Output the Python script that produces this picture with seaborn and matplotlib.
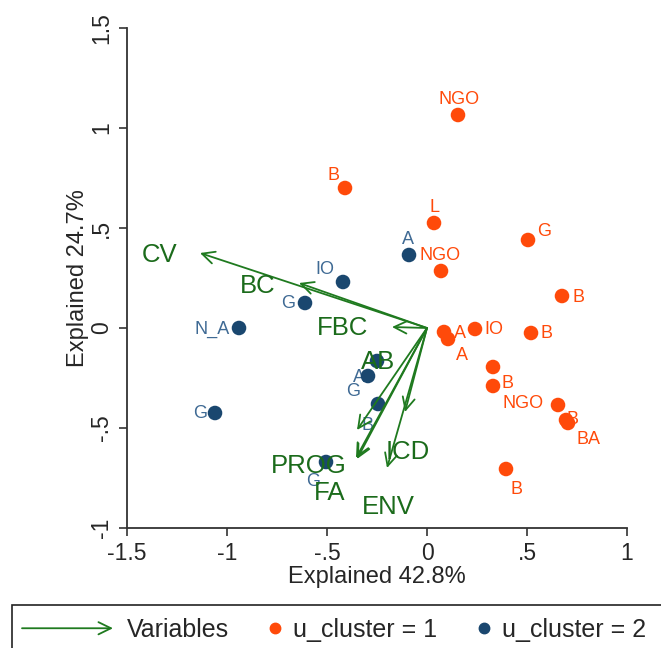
import numpy as np
import pandas as pd
import matplotlib
matplotlib.use("Agg")
import matplotlib.pyplot as plt
import seaborn as sns
from matplotlib.patches import FancyArrowPatch, Rectangle
from matplotlib.lines import Line2D
from matplotlib.legend_handler import HandlerBase

# ---------------- data ----------------
c1_x = [0.155, -0.41, 0.035, 0.07, 0.505, 0.675, 0.085, 0.105, 0.24, 0.52, 0.33, 0.33, 0.655, 0.695, 0.705, 0.395]
c1_y = [1.065, 0.70, 0.525, 0.285, 0.44, 0.16, -0.02, -0.055, -0.005, -0.025, -0.195, -0.29, -0.385, -0.46, -0.475, -0.705]
c1_lab = ["NGO", "B", "L", "NGO", "G", "B", "A", "A", "IO", "B", "", "B", "NGO", "B", "BA", "B"]

c2_x = [-0.09, -0.42, -0.61, -0.94, -1.06, -0.25, -0.295, -0.245, -0.505]
c2_y = [0.365, 0.23, 0.125, 0.0, -0.425, -0.165, -0.24, -0.38, -0.67]
c2_lab = ["A", "IO", "G", "N_A", "G", "A", "G", "B", "G"]

var_names = ["CV", "BC", "FBC", "AB", "PROG", "FA", "ICD", "ENV"]
var_x = [-1.135, -0.64, -0.175, -0.35, -0.355, -0.35, -0.11, -0.20]
var_y = [0.375, 0.225, 0.005, -0.51, -0.65, -0.655, -0.42, -0.70]

x_ticks = [-1.5, -1, -0.5, 0, 0.5, 1]
x_ticklabels = ["-1.5", "-1", "-.5", "0", ".5", "1"]
y_ticks = [-1, -0.5, 0, 0.5, 1, 1.5]
y_ticklabels = ["-1", "-.5", "0", ".5", "1", "1.5"]

# ---------------- layout / style ----------------
c1_off = [(1, 16), (-12, 12), (0, 15), (-1, 15), (16, 9), (16, -1), (16, -1), (14, -17),
          (19, -1), (16, -1), (0, 0), (14, 3), (-35, 2), (6, 1), (21, -16), (10, -20)]
c2_off = [(-1, 16), (-18, 12), (-17, 0), (-27, -1), (-15, 0), (-18, -16), (-15, -16), (-11, -21), (-13, -19)]
var_off = [(-40, -2), (-41, -3), (-49, -1), (21, 68), (-47, -8), (-27, -34), (3, -40), (1, -39)]

ORANGE = "#FF4A0A"
NAVY = "#1A476F"
GREEN_ARROW = "#1F7A1F"
GREEN_TEXT = "#1B6B1B"

sns.set_style("white")
plt.rcParams["font.family"] = ["Liberation Sans", "DejaVu Sans"]

W, H = 661, 648
fig = plt.figure(figsize=(W / 100, H / 100), dpi=100)
ax = fig.add_axes([127 / W, 1 - 528 / H, 500 / W, 500 / H])

df = pd.DataFrame({
    "x": c1_x + c2_x,
    "y": c1_y + c2_y,
    "cluster": ["u_cluster = 1"] * len(c1_x) + ["u_cluster = 2"] * len(c2_x),
})

sns.scatterplot(data=df, x="x", y="y", hue="cluster",
                palette={"u_cluster = 1": ORANGE, "u_cluster = 2": NAVY},
                s=110, linewidth=0, legend=False, ax=ax, clip_on=False, zorder=3)

for x, y, lab, off in zip(c1_x, c1_y, c1_lab, c1_off):
    if lab:
        ax.annotate(lab, (x, y), xytext=off, textcoords="offset pixels",
                    ha="center", va="center", fontsize=13, color=ORANGE, zorder=2)
for x, y, lab, off in zip(c2_x, c2_y, c2_lab, c2_off):
    ax.annotate(lab, (x, y), xytext=off, textcoords="offset pixels",
                ha="center", va="center", fontsize=13, color="#3F6A94", zorder=2)

for x, y in zip(var_x, var_y):
    ax.annotate("", xy=(x, y), xytext=(0, 0),
                arrowprops=dict(arrowstyle="->,head_length=0.45,head_width=0.22",
                                color=GREEN_ARROW, lw=1.3, shrinkA=0, shrinkB=0,
                                mutation_scale=20), zorder=4)
for x, y, lab, off in zip(var_x, var_y, var_names, var_off):
    ax.annotate(lab, (x, y), xytext=off, textcoords="offset pixels",
                ha="center", va="center", fontsize=18.5, color=GREEN_TEXT, zorder=5)

ax.set_xlim(-1.5, 1)
ax.set_ylim(-1, 1.5)
ax.set_xticks(x_ticks)
ax.set_xticklabels(x_ticklabels)
ax.set_yticks(y_ticks)
ax.set_yticklabels(y_ticklabels, rotation=90, va="center")
ax.tick_params(axis="both", direction="out", length=6, width=1.2, color="#333333",
               labelsize=16.5, pad=4, bottom=True, left=True)
for s in ["top", "right"]:
    ax.spines[s].set_visible(False)
for s in ["left", "bottom"]:
    ax.spines[s].set_color("#333333")
    ax.spines[s].set_linewidth(1.3)
ax.set_xlabel("Explained 42.8%", fontsize=17, labelpad=1)
ax.set_ylabel("Explained 24.7%", fontsize=17, labelpad=1)

# ---------------- legend ----------------
class ArrowHandler(HandlerBase):
    def create_artists(self, legend, orig_handle, xdescent, ydescent, width, height, fontsize, trans):
        y = height / 2 - ydescent
        a = FancyArrowPatch((-xdescent, y), (-xdescent + width, y),
                            arrowstyle="->,head_length=0.45,head_width=0.22",
                            mutation_scale=20, color=GREEN_ARROW, lw=1.3,
                            shrinkA=0, shrinkB=0, transform=trans)
        return [a]

fs_leg = 18
em = fs_leg / 72 * 100
ycen = 1 - 630 / H

leg1 = fig.legend([Line2D([], [])], ["Variables"], handler_map={Line2D: ArrowHandler()},
                  loc="center left", bbox_to_anchor=(22 / W, ycen), frameon=False,
                  fontsize=fs_leg, handlelength=91 / em, handletextpad=14 / em,
                  borderpad=0, borderaxespad=0)
dot_handles = [Line2D([], [], marker="o", ls="none", color=ORANGE, markersize=7.5),
               Line2D([], [], marker="o", ls="none", color=NAVY, markersize=7.5)]
leg2 = fig.legend(dot_handles, ["u_cluster = 1", "u_cluster = 2"], ncol=2,
                  loc="center left", bbox_to_anchor=(262 / W, ycen), frameon=False,
                  fontsize=fs_leg, handlelength=1.0, handletextpad=0.24,
                  columnspacing=1.36, borderpad=0, borderaxespad=0)
fig.patches.append(Rectangle((12 / W, -0.05), 1.2, 1 - 605 / H + 0.05, transform=fig.transFigure,
                             fill=False, edgecolor="#222222", lw=1.2))

fig.savefig("out.png", dpi=100)
